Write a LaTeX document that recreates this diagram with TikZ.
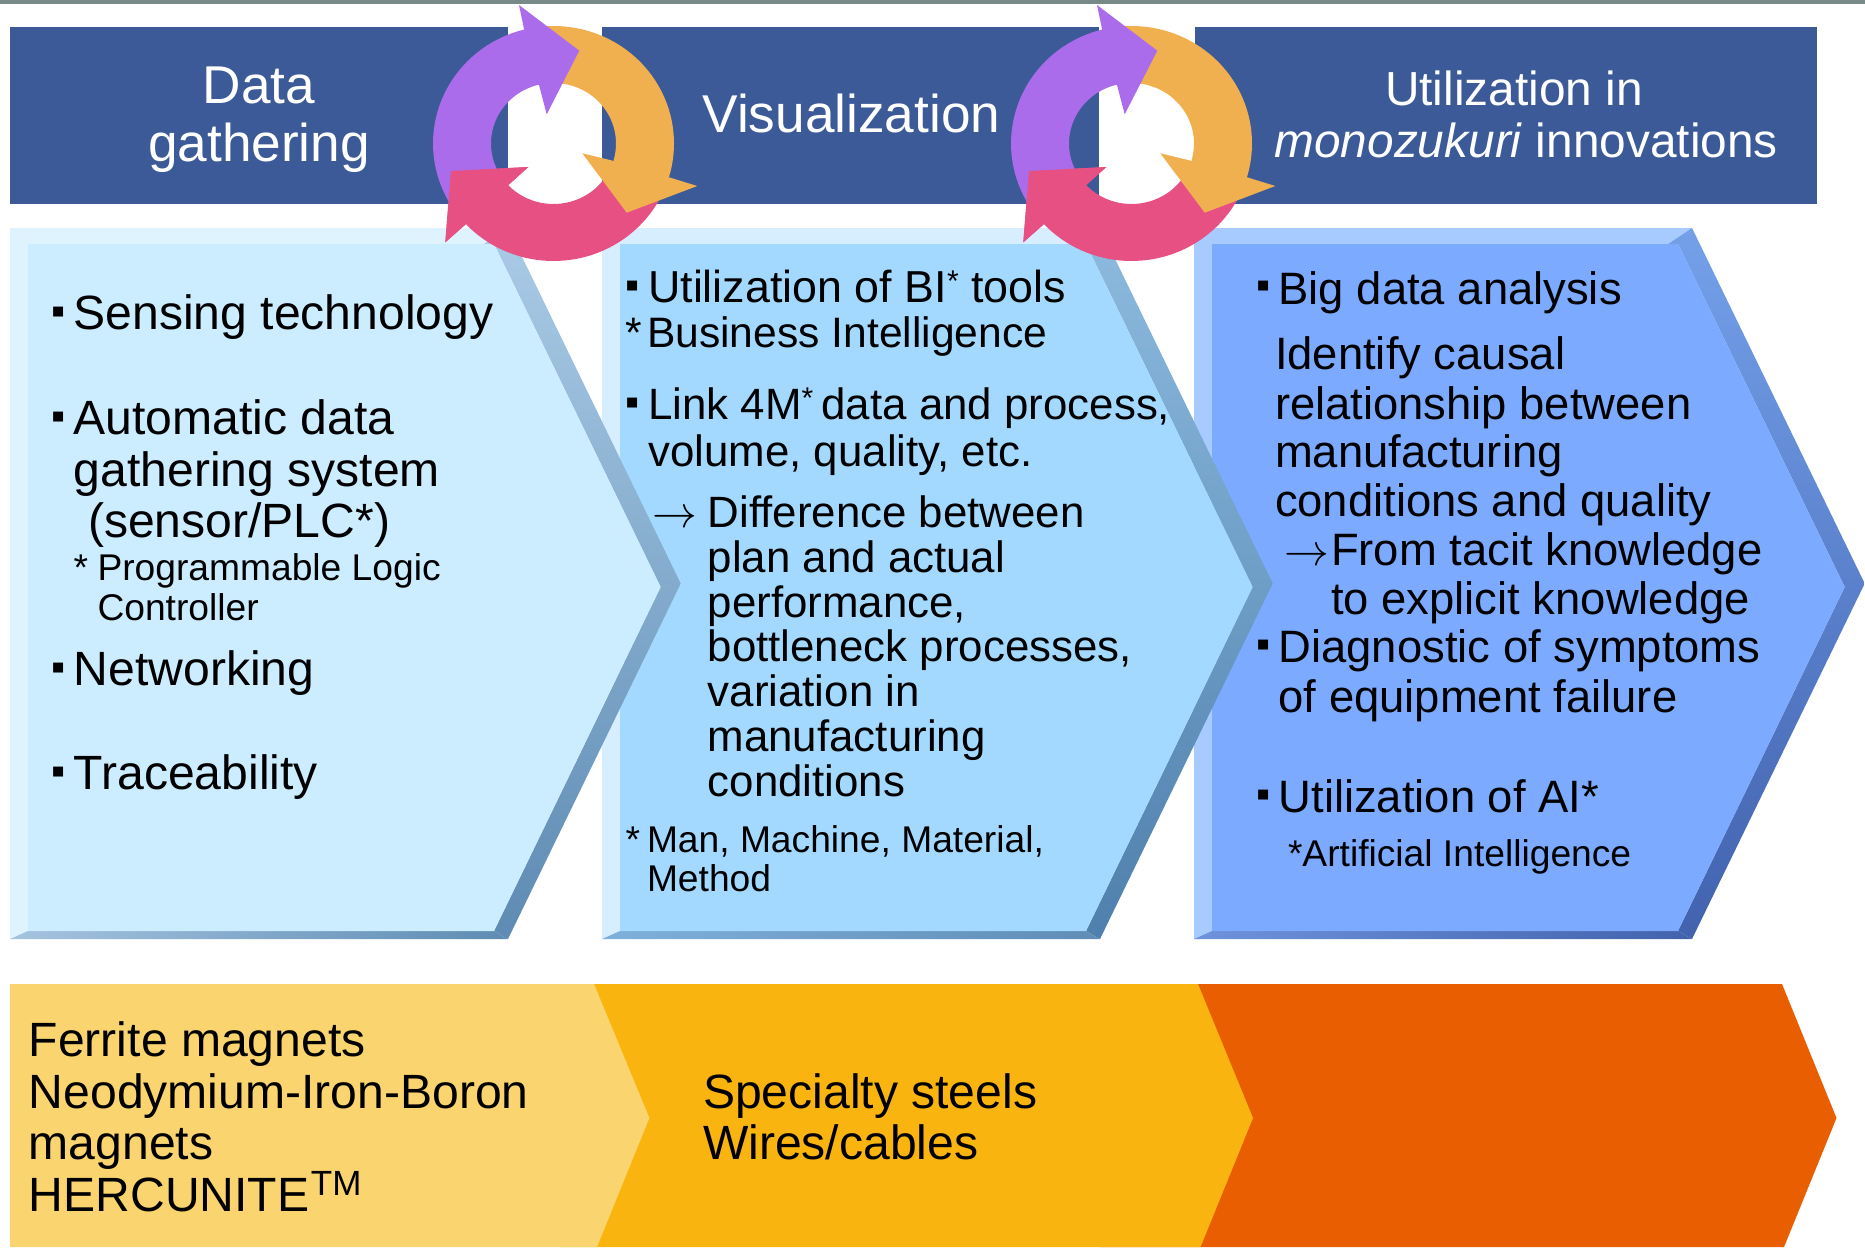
\documentclass[tikz,border=0pt]{standalone}
\usepackage{graphicx}
\usepackage{fontspec}
\setmainfont{Liberation Sans}
\definecolor{barblue}{HTML}{3C5A98}
\definecolor{topgrey}{HTML}{778A88}
\definecolor{arcpurple}{HTML}{AB6CEB}
\definecolor{arcorange}{HTML}{F0B050}
\definecolor{arcpink}{HTML}{E75082}
\definecolor{chevC}{HTML}{E95E00}
\definecolor{chevB}{HTML}{FAB40F}
\definecolor{chevA}{HTML}{F9D46F}
\definecolor{faceA}{HTML}{CCECFF}
\definecolor{stripA}{HTML}{DFF3FF}
\definecolor{bevTopA}{HTML}{AACBE6}
\definecolor{bevBotA}{HTML}{5E8BB3}
\definecolor{lowLA}{HTML}{A4C4E0}
\definecolor{lowRA}{HTML}{5F8CB4}
\definecolor{faceB}{HTML}{A3D9FF}
\definecolor{stripB}{HTML}{D6EEFF}
\definecolor{bevTopB}{HTML}{8DBBDF}
\definecolor{bevBotB}{HTML}{4F7FAC}
\definecolor{lowLB}{HTML}{7FB0DC}
\definecolor{lowRB}{HTML}{5F8DB5}
\definecolor{faceC}{HTML}{7CAAFF}
\definecolor{stripC}{HTML}{A8CBFF}
\definecolor{bevTopC}{HTML}{74A0EA}
\definecolor{bevBotC}{HTML}{4262AE}
\definecolor{lowLC}{HTML}{6E93DC}
\definecolor{lowRC}{HTML}{4262AE}
\newcommand{\chevpanel}[2]{%
 \begin{scope}[xshift=#1pt]
  \fill[strip#2] (10,228) -- (28,244) -- (28,931) -- (10,939) -- cycle;
  \fill[strip#2] (10,228) -- (508,228) -- (484,244) -- (28,244) -- cycle;
  \shade[top color=bevTop#2,bottom color=bevBot#2] (508,228) -- (680.7,583.5) -- (508,939) -- (494,931) -- (660.7,587) -- (494,244) -- (484,244) -- cycle;
  \shade[left color=lowL#2,right color=lowR#2] (10,939) -- (508,939) -- (494,931) -- (28,931) -- cycle;
  \fill[face#2] (28,244) -- (494,244) -- (660.7,587) -- (494,931) -- (28,931) -- cycle;
 \end{scope}}
\newcommand{\cyclearrows}[1]{%
 \begin{scope}[xshift=#1pt]
  \def\cx{553.5}\def\cy{143.5}
  \fill[arcpink] plot[domain=25:137.4,samples=40] ({\cx+120.5*cos(\x)},{\cy+117.5*sin(\x)})
    -- (465.7,224.3) -- (445.3,242.3) -- (451,171) -- (528.3,167) -- (508.3,185)
    -- plot[domain=137.4:25,samples=40] ({\cx+62.5*cos(\x)},{\cy+60.5*sin(\x)}) -- cycle;
  \fill[arcorange] plot[domain=-100:16.7,samples=50] ({\cx+120.5*cos(\x)},{\cy+117.5*sin(\x)})
    -- (697.3,186) -- (626.7,212.7) -- (582.3,153.3) -- (614,161)
    -- plot[domain=16:-100,samples=50] ({\cx+62.5*cos(\x)},{\cy+60.5*sin(\x)}) -- cycle;
  \fill[arcpurple] plot[domain=145:255.9,samples=40] ({\cx+120.5*cos(\x)},{\cy+117.5*sin(\x)})
    -- (519,5) -- (579.3,50.7) -- (546.7,114.3) -- (539,85)
    -- plot[domain=256:145,samples=40] ({\cx+62.5*cos(\x)},{\cy+60.5*sin(\x)}) -- cycle;
  \fill[arcpink] (465.7,224.3) -- (445.3,242.3) -- (451,171) -- (528.3,167) -- (508.3,185) -- cycle;
 \end{scope}}
\newcommand{\supstar}{\raisebox{11.5pt}{\fontsize{30pt}{30pt}\selectfont *}}
\newcommand{\bigarrow}{\scalebox{1.8}{$\rightarrow$}}
\tikzset{
 lab/.style={inner sep=0pt,outer sep=0pt,anchor=base west,text=black},
 sizeH/.style={lab,text=white,font=\fontsize{53.2pt}{56pt}\selectfont},
 sizeU/.style={lab,text=white,font=\fontsize{47.8pt}{50pt}\selectfont},
 sizeA/.style={lab,font=\fontsize{48.1pt}{50pt}\selectfont},
 sizeB/.style={lab,font=\fontsize{43.85pt}{46pt}\selectfont},
 sizeR/.style={lab,font=\fontsize{44.8pt}{46pt}\selectfont},
 sizeC/.style={lab,font=\fontsize{45.4pt}{48pt}\selectfont},
 sizeS/.style={lab,font=\fontsize{37.2pt}{40pt}\selectfont},
 sizeN/.style={lab,font=\fontsize{42.6pt}{45pt}\selectfont},
 dotbox/.style={lab,font=\fontsize{40pt}{42pt}\selectfont},
}
\begin{document}
\begin{tikzpicture}[x=1pt,y=-1pt]
\path[use as bounding box,fill=white] (0,0) rectangle (1865,1247);
\fill[topgrey] (0,0) rectangle (1865,4);
% header bars
\fill[barblue] (10,27) rectangle (508,204);
\fill[barblue] (602,27) rectangle (1099,204);
\fill[barblue] (1195,27) rectangle (1817,204);
% panels
\chevpanel{1184}{C}
\chevpanel{592}{B}
\chevpanel{0}{A}
% bottom chevrons
\fill[chevC] (1100,984) -- (1782,984) -- (1836.5,1118) -- (1784,1247) -- (1100,1247) -- cycle;
\fill[chevB] (560,984) -- (1198,984) -- (1253,1118) -- (1200.5,1247) -- (560,1247) -- cycle;
\fill[chevA] (10,984) -- (594,984) -- (649.4,1118) -- (597,1247) -- (10,1247) -- cycle;
% cycle arrows
\cyclearrows{0}
\cyclearrows{578}
% headers
\node[sizeH,anchor=base] (h1a) at (259,103.7) {Data};
\node[sizeH,anchor=base] (h1b) at (259,161.8) {gathering};
\node[sizeH] (h2) at (702.5,132.2) {Visualization};
\node[sizeU,anchor=base] (h3a) at (1514,105.9) {Utilization in};
\node[sizeU] (h3b) at (1274.5,157) {\textit{monozukuri} innovations};
% panel 1
\node[dotbox] (b1) at (51,324.5) {▪};
\node[sizeA] (p1a) at (73.7,329.5) {Sensing technology};
\node[dotbox] (b2) at (51,429) {▪};
\node[sizeA] (p1b) at (73.7,434) {Automatic data};
\node[sizeA] (p1c) at (73.7,486.5) {gathering system};
\node[sizeA] (p1d) at (88,537.6) {(sensor/PLC*)};
\node[sizeS] (p1e) at (73.7,580.4) {*};
\node[sizeS] (p1f) at (97.5,580.4) {Programmable Logic};
\node[sizeS] (p1g) at (97.5,620.5) {Controller};
\node[dotbox] (b3) at (51,680) {▪};
\node[sizeA] (p1h) at (73.7,685) {Networking};
\node[dotbox] (b4) at (51,784.8) {▪};
\node[sizeA] (p1i) at (73.7,789.8) {Traceability};
% panel 2
\node[dotbox] (b5) at (625,298.5) {▪};
\node[sizeR] (p2a) at (648.2,302.8) {Utilization of BI\supstar{} tools};
\node[sizeN] (p2b) at (625.6,347.3) {*};
\node[sizeN] (p2c) at (647,347.3) {Business Intelligence};
\node[dotbox] (b6) at (625,415.5) {▪};
\node[sizeB] (p2d) at (648.2,419.5) {Link 4M\supstar{}\kern-4pt{} data and process,};
\node[sizeB] (p2e) at (648.2,466.5) {volume, quality, etc.};
\node[sizeB] (p2f) at (652.5,527) {\bigarrow};
\node[sizeB] (p2g) at (707.7,527) {Difference between};
\node[sizeB] (p2h) at (707.7,572) {plan and actual};
\node[sizeB] (p2i) at (707.7,617) {performance,};
\node[sizeB] (p2j) at (707.7,661.3) {bottleneck processes,};
\node[sizeB] (p2k) at (707.7,706.5) {variation in};
\node[sizeB] (p2l) at (707.7,751.7) {manufacturing};
\node[sizeB] (p2m) at (707.7,796.5) {conditions};
\node[sizeS] (p2n) at (625.6,852.8) {*};
\node[sizeS] (p2o) at (647,852.8) {Man, Machine, Material,};
\node[sizeS] (p2p) at (647,891) {Method};
% panel 3
\node[dotbox] (b7) at (1256.5,298.8) {▪};
\node[sizeC] (p3a) at (1278.6,304.3) {Big data analysis};
\node[sizeC] (p3b) at (1275,369.7) {Identify causal};
\node[sizeC] (p3c) at (1275,419.2) {relationship between};
\node[sizeC] (p3d) at (1275,467.4) {manufacturing};
\node[sizeC] (p3e) at (1275,516.7) {conditions and quality};
\node[sizeC] (p3f) at (1284,565) {\bigarrow};
\node[sizeC] (p3g) at (1331,565) {From tacit knowledge};
\node[sizeC] (p3h) at (1331,614.7) {to explicit knowledge};
\node[dotbox] (b8) at (1256.5,657.5) {▪};
\node[sizeC] (p3i) at (1278.6,662.5) {Diagnostic of symptoms};
\node[sizeC] (p3j) at (1278.6,712.5) {of equipment failure};
\node[dotbox] (b9) at (1256.5,807.4) {▪};
\node[sizeC] (p3k) at (1278.6,812.4) {Utilization of AI*};
\node[sizeS] (p3l) at (1288,866) {*Artificial Intelligence};
% bottom
\node[sizeA] (m1) at (28.8,1056.2) {Ferrite magnets};
\node[sizeA] (m2) at (28.8,1108.5) {Neodymium-Iron-Boron};
\node[sizeA] (m3) at (28.8,1159.7) {magnets};
\node[sizeA] (m4) at (28.8,1211.5) {HERCUNITE\kern1.5pt\raisebox{15.7pt}{\fontsize{35pt}{35pt}\selectfont TM}};
\node[sizeA] (m5) at (703,1108.5) {Specialty steels};
\node[sizeA] (m6) at (703,1159.7) {Wires/cables};
\end{tikzpicture}
\end{document}
